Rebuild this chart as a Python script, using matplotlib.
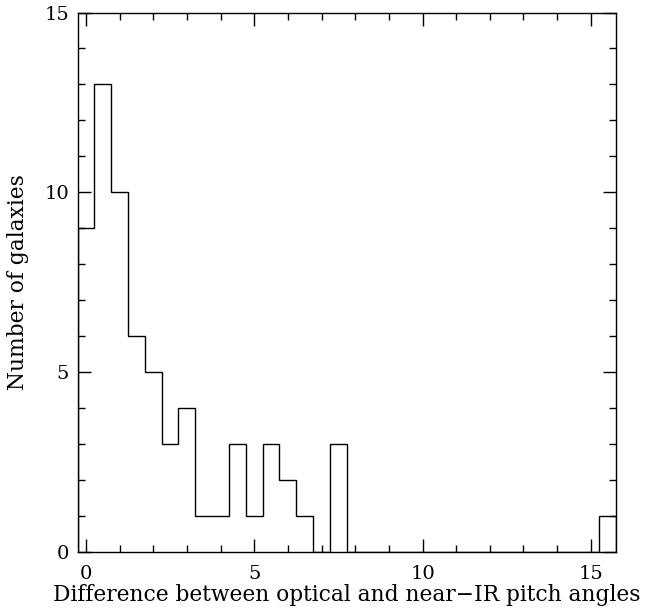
import matplotlib
matplotlib.use("Agg")
import matplotlib.pyplot as plt
import numpy as np
from matplotlib.ticker import MultipleLocator

# histogram bins of width 0.5, starting at -0.25
bin_start = -0.25
bin_width = 0.5
counts = [9, 13, 10, 6, 5, 3, 4, 1, 1, 3, 1, 3, 2, 1, 0, 3,
          0, 0, 0, 0, 0, 0, 0, 0, 0, 0, 0, 0, 0, 0, 0, 1]
edges = bin_start + bin_width * np.arange(len(counts) + 1)

plt.rcParams['font.family'] = ['DejaVu Serif']

fig = plt.figure(figsize=(6.46, 6.10), dpi=100)
ax = fig.add_axes([0.12, 0.095, 0.8336, 0.8845])
ax.stairs(counts, edges, color='black', lw=1.0)

ax.set_xlim(edges[0], edges[-1])
ax.set_ylim(0, 15)
ax.xaxis.set_major_locator(MultipleLocator(5))
ax.xaxis.set_minor_locator(MultipleLocator(1))
ax.yaxis.set_major_locator(MultipleLocator(5))
ax.yaxis.set_minor_locator(MultipleLocator(1))
ax.tick_params(which='both', direction='in', top=True, right=True, labelsize=14, width=1.0)
ax.tick_params(which='major', length=9.5, pad=6)
ax.tick_params(axis='x', which='major', pad=9)
ax.tick_params(which='minor', length=5)
for s in ax.spines.values():
    s.set_linewidth(1.0)

ax.set_xlabel('Difference between optical and near\u2212IR pitch angles', fontsize=15.7, labelpad=1)
ax.set_ylabel('Number of galaxies', fontsize=15.7, labelpad=11)

plt.savefig('out.png', dpi=100)
